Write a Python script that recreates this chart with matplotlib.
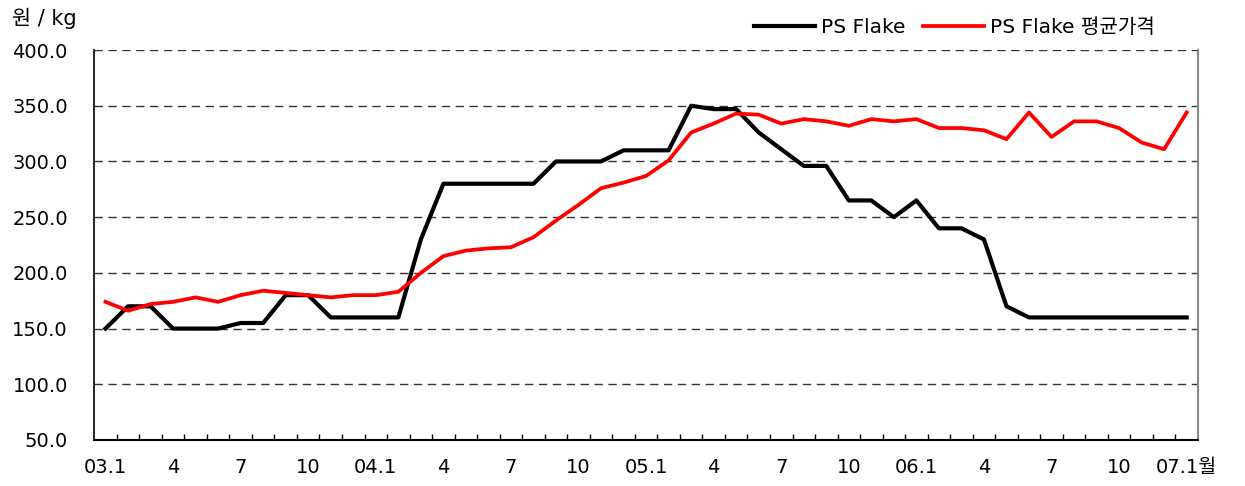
import matplotlib.pyplot as plt
import numpy as np

plt.rcParams['font.family'] = ['DejaVu Sans', 'Noto Sans CJK KR']

# monthly data, 03.1 .. 07.1
months = ['03.1', '', '', '4', '', '', '7', '', '', '10', '', '',
          '04.1', '', '', '4', '', '', '7', '', '', '10', '', '',
          '05.1', '', '', '4', '', '', '7', '', '', '10', '', '',
          '06.1', '', '', '4', '', '', '7', '', '', '10', '', '',
          '07.1월']

ps_flake = [150, 170, 170, 150, 150, 150, 155, 155, 180, 180, 160, 160,
            160, 160, 230, 280, 280, 280, 280, 280, 300, 300, 300, 310,
            310, 310, 350, 347, 347, 326, 311, 296, 296, 265, 265, 250,
            265, 240, 240, 230, 170, 160, 160, 160, 160, 160, 160, 160,
            160]

ps_flake_avg = [174, 166, 172, 174, 178, 174, 180, 184, 182, 180, 178, 180,
                180, 183, 200, 215, 220, 222, 223, 232, 247, 261, 276, 281,
                287, 301, 326, 334, 343, 342, 334, 338, 336, 332, 338, 336,
                338, 330, 330, 328, 320, 344, 322, 336, 336, 330, 317, 311,
                344]

x = np.arange(len(months))

fig = plt.figure(figsize=(12.45, 4.86), dpi=100)
ax = fig.add_axes([0.0757, 0.0947, 0.8865, 0.8023])

ax.plot(x, ps_flake, color='black', lw=3.0, label='PS Flake', zorder=3)
ax.plot(x, ps_flake_avg, color='#ff0000', lw=2.7, label='PS Flake 평균가격', zorder=4)

ax.set_xlim(-0.5, len(months) - 0.5)
ax.set_ylim(50, 400)
ax.set_yticks(np.arange(50, 401, 50))
ax.set_yticklabels(['%.1f' % v for v in np.arange(50, 401, 50)])

# gridlines
for v in np.arange(100, 401, 50):
    ax.axhline(v, color='#333333', lw=1.0, ls=(0, (6, 4)), zorder=1)

ax.set_xticks(x)
ax.set_xticklabels(months)
ax.set_xticks(np.arange(0.5, len(months) - 1, 1), minor=True)
ax.tick_params(axis='x', which='major', length=0, pad=13, labelsize=14)
ax.tick_params(axis='x', which='minor', direction='in', length=4.5, width=1.0)
ax.tick_params(axis='y', length=0, pad=19, labelsize=14)

ax.spines['top'].set_visible(False)
ax.spines['right'].set_color('#888888')
ax.spines['right'].set_linewidth(1.5)
ax.spines['left'].set_linewidth(1.2)
ax.spines['bottom'].set_linewidth(1.5)

fig.text(0.0096, 0.963, '원 / kg', fontsize=15, va='center', ha='left')

fig.legend(loc='center right', bbox_to_anchor=(0.934, 0.944), ncol=2,
           frameon=False, fontsize=14.5, handlelength=3.0, handletextpad=0.3,
           columnspacing=0.9, borderaxespad=0)

fig.savefig('out.png', dpi=100)
